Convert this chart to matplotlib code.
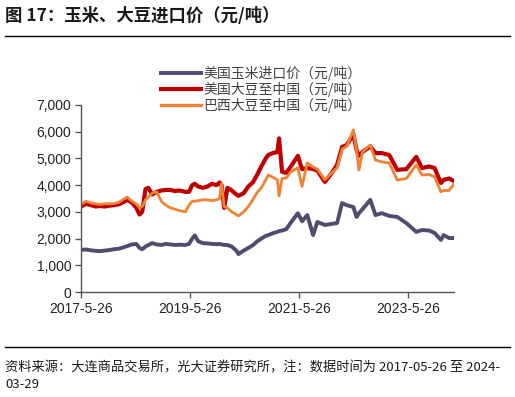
import matplotlib
matplotlib.use("Agg")
import matplotlib.pyplot as plt
import pandas as pd

# 数据
dates = ["2017-05-26", "2017-07-01", "2017-08-01", "2017-09-01", "2017-10-01", "2017-11-01",
         "2017-12-01", "2018-01-01", "2018-02-01", "2018-03-01", "2018-04-01", "2018-05-01",
         "2018-06-01", "2018-06-22", "2018-07-10", "2018-08-01", "2018-08-20", "2018-09-15",
         "2018-10-15", "2018-11-15", "2018-12-15", "2019-01-15", "2019-02-15", "2019-03-15",
         "2019-04-25", "2019-05-20", "2019-06-10", "2019-06-28", "2019-07-20", "2019-08-20",
         "2019-09-20", "2019-10-20", "2019-11-20", "2019-12-10", "2019-12-24", "2020-01-10",
         "2020-02-01", "2020-03-01", "2020-04-01", "2020-04-15", "2020-05-20", "2020-06-20",
         "2020-07-20", "2020-08-15", "2020-09-15", "2020-10-15", "2020-11-01", "2020-12-01",
         "2021-01-01", "2021-01-12", "2021-02-01", "2021-03-01", "2021-04-01", "2021-05-18",
         "2021-06-15", "2021-07-20", "2021-08-28", "2021-09-25", "2021-11-15", "2022-01-01",
         "2022-02-05", "2022-03-10", "2022-04-10", "2022-05-25", "2022-06-15", "2022-07-01",
         "2022-07-25", "2022-09-15", "2022-10-20", "2022-12-01", "2023-01-20", "2023-03-15",
         "2023-05-15", "2023-07-20", "2023-08-28", "2023-10-15", "2023-11-20", "2024-01-01",
         "2024-01-20", "2024-02-25", "2024-03-29"]
corn = [1580, 1590, 1560, 1540, 1530, 1550,
        1570, 1600, 1620, 1660, 1720, 1780,
        1800, 1650, 1600, 1700, 1760, 1830,
        1780, 1760, 1800, 1780, 1760, 1770,
        1760, 1800, 2000, 2120, 1900, 1830,
        1820, 1800, 1790, 1800, 1780, 1760,
        1760, 1700, 1550, 1420, 1550, 1650,
        1750, 1880, 2000, 2100, 2130, 2200,
        2250, 2280, 2300, 2350, 2600, 2950,
        2650, 2880, 2130, 2620, 2510, 2550,
        2580, 3330, 3250, 3180, 2810, 2950,
        3100, 3450, 2880, 2950, 2850, 2810,
        2580, 2250, 2320, 2300, 2210, 1950,
        2130, 2020, 2020]
us_soy = [3200, 3300, 3250, 3200, 3220, 3200,
          3230, 3250, 3280, 3350, 3450, 3350,
          3150, 2900, 3000, 3850, 3900, 3650,
          3750, 3800, 3820, 3820, 3780, 3800,
          3750, 3750, 4000, 4050, 3950, 3900,
          3950, 4050, 4000, 4100, 4000, 3150,
          3900, 3800, 3650, 3600, 3700, 3950,
          4100, 4350, 4700, 5000, 5130, 5200,
          5240, 5750, 4500, 4460, 4700, 5100,
          4600, 4640, 4600, 4550, 4120, 4460,
          4760, 5430, 5500, 5900, 5320, 5100,
          5240, 5450, 5200, 5200, 5130, 4570,
          4600, 5060, 4640, 4700, 4640, 4080,
          4200, 4250, 4150]
br_soy = [3280, 3400, 3330, 3300, 3280, 3300,
          3300, 3310, 3350, 3450, 3550, 3400,
          3300, 3150, 3200, 3450, 3550, 3700,
          3750, 3400, 3250, 3150, 3100, 3050,
          3000, 3250, 3400, 3400, 3420, 3450,
          3450, 3420, 3450, 3500, 4050, 3200,
          3150, 3000, 2900, 2850, 3000, 3200,
          3450, 3700, 3900, 4200, 4380, 4300,
          4190, 3600, 4250, 4270, 4500, 4650,
          3950, 4830, 4680, 4600, 4200, 4460,
          4650, 5350, 5450, 6070, 5300, 4570,
          5240, 5500, 4940, 4870, 4830, 4190,
          4250, 4760, 4380, 4400, 4310, 3750,
          3800, 3800, 4050]
xticks = ["2017-05-26", "2019-05-26", "2021-05-26", "2023-05-26"]
xticklabels = ["2017-5-26", "2019-5-26", "2021-5-26", "2023-5-26"]
yticks = [0, 1000, 2000, 3000, 4000, 5000, 6000, 7000]
names = ["美国玉米进口价（元/吨）", "美国大豆至中国（元/吨）", "巴西大豆至中国（元/吨）"]

cjk = ["Noto Sans CJK SC", "DejaVu Sans"]
num = ["Liberation Sans", "DejaVu Sans"]

x = pd.to_datetime(dates)

fig = plt.figure(figsize=(5.15, 3.97), dpi=100)
ax = fig.add_axes([81 / 515, 1 - 292 / 397, (454 - 81) / 515, (292 - 105) / 397])

l1, = ax.plot(x, corn, color="#4e4d70", lw=2.8, label=names[0])
l2, = ax.plot(x, us_soy, color="#c00000", lw=3.0, label=names[1])
l3, = ax.plot(x, br_soy, color="#f08233", lw=2.0, label=names[2])

ax.set_xlim(pd.Timestamp("2017-05-26"), pd.Timestamp("2024-03-29"))
ax.set_ylim(0, 7000)
ax.set_yticks(yticks)
ax.set_yticklabels([f"{v:,}" for v in yticks], family=num, fontsize=10, color="#222222")
ax.set_xticks(pd.to_datetime(xticks))
ax.set_xticklabels(xticklabels, family=num, fontsize=10, color="#222222")
ax.tick_params(axis="both", direction="out", length=4, width=1, color="#555555", pad=3)
for s in ["top", "right"]:
    ax.spines[s].set_visible(False)
for s in ["left", "bottom"]:
    ax.spines[s].set_color("#555555")
    ax.spines[s].set_linewidth(1)

leg = fig.legend(handles=[l1, l2, l3], loc="upper left", bbox_to_anchor=(155 / 515, 1 - 60 / 397),
                 frameon=False, prop={"family": cjk, "size": 10}, handlelength=2.9,
                 handletextpad=0.2, labelspacing=0.1, borderaxespad=0)
for t in leg.get_texts():
    t.set_color("#404040")
leg.get_lines()[2].set_linewidth(2.4)

# 标题和分隔线
fig.text(5 / 515, 1 - 16 / 397, "图 17：玉米、大豆进口价（元/吨）", family=cjk, fontsize=12.5,
         fontweight="bold", color="#1a1a1a", va="center", ha="left")
fig.add_artist(plt.Line2D([5 / 515, 510 / 515], [1 - 36 / 397, 1 - 36 / 397], color="black", lw=1))
fig.add_artist(plt.Line2D([5 / 515, 510 / 515], [1 - 347 / 397, 1 - 347 / 397], color="black", lw=1))
fig.text(5 / 515, 1 - 368 / 397, "资料来源：大连商品交易所，光大证券研究所，注：数据时间为 2017-05-26 至 2024-",
         family=cjk, fontsize=9.5, color="#1a1a1a", va="center", ha="left")
fig.text(5 / 515, 1 - 385 / 397, "03-29", family=cjk, fontsize=9.5, color="#1a1a1a",
         va="center", ha="left")

fig.savefig("out.png", dpi=100)
